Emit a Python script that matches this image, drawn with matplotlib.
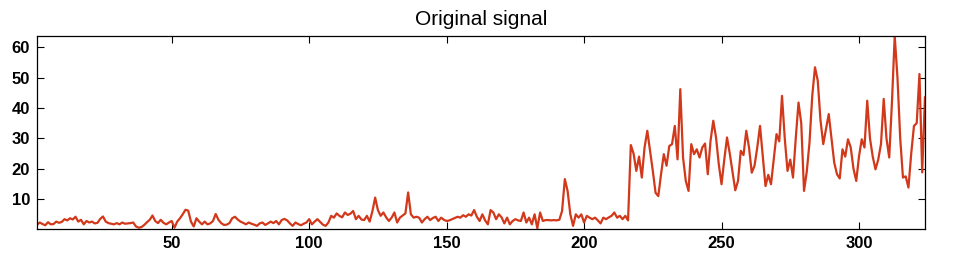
import numpy as np
import matplotlib
matplotlib.use("Agg")
import matplotlib.pyplot as plt

# signal values, one per sample (index 1..324)
sig_1_72 = [1.6, 2.3, 1.8, 1.4, 2.4, 1.7, 1.8, 2.6, 2.2, 2.5,
            3.4, 3.0, 3.7, 3.3, 4.2, 2.6, 3.2, 1.7, 2.8, 2.3,
            2.6, 2.0, 2.2, 3.5, 4.3, 2.6, 2.1, 1.9, 1.7, 2.1,
            1.7, 2.3, 1.9, 2.0, 2.1, 2.3, 1.0, 0.6, 0.8, 1.5,
            2.4, 3.2, 4.6, 2.8, 2.1, 3.2, 2.2, 1.7, 2.3, 2.8,
            0.6, 2.6, 3.7, 5.0, 6.5, 6.2, 2.6, 1.0, 3.7, 2.6,
            1.7, 2.6, 1.7, 2.0, 2.8, 5.1, 3.2, 2.1, 1.5, 1.6,
            2.1, 3.7]
sig_73_143 = [4.2, 3.3, 2.6, 2.2, 1.7, 2.3, 1.9, 1.6,
              1.2, 2.0, 2.3, 1.5, 2.0, 2.6, 2.1, 2.8, 1.7, 3.1,
              3.5, 3.0, 2.0, 1.2, 2.3, 1.8, 1.4, 1.9, 2.3, 3.4,
              1.7, 2.6, 3.4, 2.5, 1.6, 1.2, 2.3, 4.5, 3.9, 5.3,
              4.5, 4.0, 5.6, 4.8, 5.2, 6.1, 3.4, 4.5, 3.3, 3.1,
              4.5, 2.6, 6.0, 10.5, 6.4, 4.5, 5.6, 4.0, 2.8, 3.9,
              5.6, 2.3, 3.9, 4.6, 5.3, 12.2, 5.0, 3.9, 4.2, 3.9,
              2.3, 3.4, 4.2]
sig_144_216 = [3.1, 3.8, 4.2, 2.8, 3.9, 3.2, 2.8,
               3.0, 3.4, 3.8, 4.2, 3.9, 4.7, 4.2, 5.0, 4.6, 6.4,
               4.2, 2.8, 5.0, 3.0, 1.7, 6.4, 5.6, 3.4, 5.0, 4.0,
               2.0, 3.9, 1.7, 2.8, 3.4, 3.0, 2.8, 5.6, 2.3, 3.9,
               1.7, 5.0, 0.4, 5.6, 2.8, 3.1, 3.1, 3.0, 3.1, 3.0,
               3.2, 6.1, 16.6, 12.7, 5.0, 1.2, 5.0, 3.9, 5.0, 2.3,
               4.5, 3.9, 3.4, 3.9, 3.0, 2.0, 3.9, 3.4, 4.0, 4.5,
               5.6, 3.9, 4.5, 3.4, 4.5, 3.0]
sig_217_250 = [27.8, 25.0, 19.3, 24.0, 17.1, 27.0, 32.5, 25.9, 19.3, 12.1,
               11.0, 18.2, 24.8, 21.0, 27.5, 28.1, 34.1, 23.1, 46.2, 23.7,
               16.0, 12.7, 28.1, 24.8, 26.4, 23.7, 27.0, 28.3, 18.2, 29.2,
               35.8, 30.3, 21.5, 14.9]
sig_251_286 = [23.0, 30.3, 25.0, 19.0, 12.9, 16.0, 25.9, 24.5, 32.5, 27.0,
               18.7, 21.0, 27.0, 34.1, 24.0, 14.3, 18.0, 14.9, 23.0, 31.4,
               29.0, 44.0, 30.0, 19.3, 23.0, 17.1, 30.0, 41.8, 35.0, 12.7,
               19.0, 28.6, 44.0, 53.4, 49.0, 36.0]
sig_287_324 = [28.1, 33.0, 38.0, 30.0, 22.0, 18.2, 16.8, 26.4, 24.0, 29.7,
               27.0, 20.0, 16.0, 24.0, 29.7, 27.0, 42.4, 30.0, 24.0, 19.8,
               23.0, 28.1, 43.0, 30.0, 23.7, 42.0, 63.7, 50.0, 30.0, 17.1,
               17.5, 13.8, 25.0, 34.1, 35.0, 51.2, 18.8, 43.5]

xticks = [50, 100, 150, 200, 250, 300]
yticks = [10, 20, 30, 40, 50, 60]

y = np.array(sig_1_72 + sig_73_143 + sig_144_216 + sig_217_250
             + sig_251_286 + sig_287_324)
x = np.arange(1, len(y) + 1)

plt.rcParams['font.family'] = ['Liberation Sans', 'DejaVu Sans']

fig = plt.figure(figsize=(9.64, 2.59), dpi=100)
ax = fig.add_axes([0.0384, 0.1174, 0.9211, 0.7436])

ax.plot(x, y, color='#d2381a', linewidth=1.6)

# matlab style "axis tight"
ax.set_xlim(1, len(y))
ax.set_ylim(0.3, y.max())
ax.set_xticks(xticks)
ax.set_yticks(yticks)
ax.tick_params(direction='in', top=True, right=True, length=5, width=0.8,
               labelsize=12, pad=5)
for lab in ax.get_xticklabels() + ax.get_yticklabels():
    lab.set_fontweight('bold')
for s in ax.spines.values():
    s.set_linewidth(0.9)

ax.set_title('Original signal', fontsize=15, pad=8)

fig.savefig('out.png', dpi=100)
